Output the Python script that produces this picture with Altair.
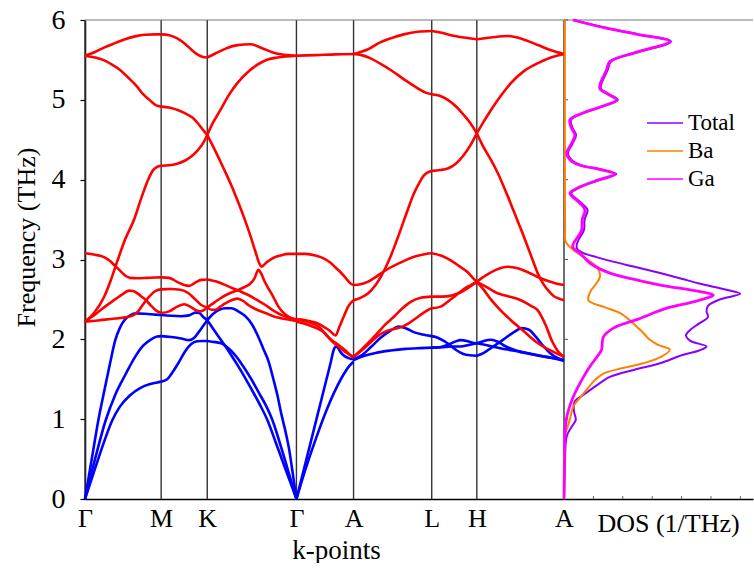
import altair as alt
import pandas as pd

# ---------------- k-path ----------------
K_LABELS = ["Γ", "M", "K", "Γ", "A", "L", "H", "A"]
K_POS = [0, 76, 122, 211, 268, 346, 391, 478]
FREQ_TICKS = [0, 1, 2, 3, 4, 5, 6]
DOS_TICKS = [1, 2, 3, 4, 5, 6]

# ---------------- acoustic branches (k, THz) ----------------
ac_GM_1 = [(0, 0), (7, 0.52), (13.5, 1.0), (20, 1.4), (25, 1.7), (30, 1.98), (35, 2.15), (40, 2.25), (45, 2.3), (51, 2.325), (60, 2.32), (70, 2.31), (76, 2.305)]
ac_GM_2 = [(0, 0), (10, 0.5), (20.5, 0.98), (30, 1.3), (40, 1.55), (50, 1.78), (58, 1.92), (66, 2.0), (72, 2.035), (76, 2.04)]
ac_GM_3 = [(0, 0), (10, 0.38), (20, 0.75), (27, 0.98), (35, 1.16), (45, 1.3), (55, 1.39), (65, 1.44), (72, 1.46), (76, 1.47)]
ac_MK_1 = [(76, 2.305), (86, 2.295), (96, 2.29), (104, 2.3), (110, 2.335), (114, 2.33), (118, 2.28), (122, 2.24)]
ac_MK_2 = [(76, 2.04), (86, 2.03), (96, 2.01), (104, 1.99), (109, 2.02), (114, 2.1), (118, 2.17), (122, 2.24)]
ac_MK_3 = [(76, 1.47), (82, 1.5), (88, 1.6), (94, 1.72), (100, 1.85), (106, 1.94), (112, 1.975), (117, 1.98), (122, 1.98)]
ac_KG_1 = [(122, 2.24), (128, 2.32), (134, 2.37), (140, 2.39), (146, 2.39), (153, 2.35), (160, 2.29), (167, 2.18), (173, 2.03), (178, 1.88), (183, 1.73), (188, 1.5), (192, 1.3), (196, 1.06), (200, 0.85), (204, 0.6), (208, 0.26), (211, 0)]
ac_KG_2 = [(122, 2.24), (128, 2.13), (133, 2.04), (138, 1.95), (145, 1.82), (155, 1.62), (165, 1.4), (175, 1.17), (182, 0.99), (190, 0.72), (197, 0.48), (204, 0.24), (211, 0)]
ac_KG_3 = [(122, 1.98), (130, 1.965), (136, 1.95), (142, 1.9), (150, 1.8), (158, 1.66), (166, 1.5), (174, 1.32), (181, 1.16), (187, 0.99), (194, 0.72), (200, 0.47), (206, 0.21), (211, 0)]
ac_GA_1 = [(211, 0), (216, 0.25), (221, 0.5), (226, 0.75), (231, 1.0), (236, 1.25), (241, 1.5), (245, 1.7), (248, 1.86), (250, 1.91), (252, 1.9), (255, 1.84), (259, 1.79), (263, 1.765), (268, 1.75)]
ac_GA_2 = [(211, 0), (220, 0.37), (230, 0.74), (240, 1.08), (250, 1.37), (258, 1.56), (264, 1.67), (268, 1.72)]
ac_AL_1 = [(268, 1.74), (278, 1.79), (290, 1.83), (305, 1.86), (320, 1.88), (335, 1.89), (346, 1.896)]
ac_AL_2 = [(268, 1.75), (276, 1.8), (285, 1.9), (295, 2.02), (305, 2.11), (313, 2.16), (320, 2.14), (328, 2.09), (337, 2.06), (346, 2.04)]
ac_LH_1 = [(346, 2.04), (352, 2.02), (358, 1.98), (364, 1.93), (370, 1.87), (377, 1.82), (384, 1.8), (391, 1.795)]
ac_LH_2 = [(346, 1.896), (354, 1.9), (362, 1.93), (369, 1.97), (375, 1.99), (381, 1.98), (386, 1.96), (391, 1.95)]
ac_LH_3 = [(346, 1.896), (356, 1.9), (366, 1.91), (375, 1.91), (383, 1.93), (391, 1.95)]
ac_HA_1 = [(391, 1.95), (398, 1.98), (405, 1.995), (412, 1.97), (420, 1.91), (430, 1.86), (445, 1.82), (460, 1.78), (470, 1.76), (478, 1.74)]
ac_HA_2 = [(391, 1.795), (398, 1.83), (405, 1.89), (412, 1.95), (420, 2.02), (428, 2.09), (436, 2.14), (443, 2.12), (450, 2.03), (457, 1.92), (464, 1.83), (471, 1.77), (478, 1.74)]
ac_HA_3 = [(391, 1.95), (400, 1.93), (410, 1.9), (420, 1.875), (435, 1.84), (450, 1.8), (465, 1.77), (478, 1.73)]

# ---------------- optical branches (k, THz) ----------------
op_GM_1 = [(0, 5.553), (10, 5.6), (20, 5.66), (30, 5.71), (40, 5.76), (50, 5.795), (60, 5.815), (70, 5.82), (76, 5.82)]
op_GM_2 = [(0, 5.553), (10, 5.53), (18, 5.5), (27, 5.44), (35, 5.375), (43, 5.28), (52, 5.165), (58, 5.07), (65, 4.99), (71, 4.93), (76, 4.915)]
op_GM_3 = [(0, 2.22), (9, 2.33), (19, 2.53), (26, 2.75), (32, 2.97), (40, 3.25), (49, 3.5), (57, 3.8), (63, 4.0), (68, 4.12), (72, 4.16), (76, 4.175)]
op_GM_4 = [(0, 3.078), (10, 3.06), (19, 3.03), (25, 2.98), (30, 2.92), (35, 2.86), (40, 2.8), (45, 2.77), (52, 2.765), (62, 2.77), (70, 2.775), (76, 2.776)]
op_GM_5 = [(0, 2.22), (10, 2.31), (20, 2.41), (30, 2.5), (38, 2.57), (44, 2.61), (48, 2.605), (53, 2.57), (57, 2.53), (61, 2.49), (66, 2.42), (71, 2.36), (76, 2.33)]
op_GM_6 = [(0, 2.22), (15, 2.24), (30, 2.26), (42, 2.28), (48, 2.3), (53, 2.35), (57, 2.42), (61, 2.49), (66, 2.56), (71, 2.61), (76, 2.626)]
op_MK_1 = [(76, 5.82), (84, 5.81), (92, 5.77), (100, 5.7), (106, 5.63), (112, 5.57), (117, 5.54), (122, 5.53)]
op_MK_2 = [(76, 4.915), (85, 4.9), (95, 4.86), (103, 4.81), (108, 4.77), (113, 4.7), (118, 4.62), (122, 4.56)]
op_MK_3 = [(76, 4.175), (84, 4.18), (92, 4.2), (100, 4.24), (106, 4.29), (112, 4.36), (118, 4.46), (122, 4.56)]
op_MK_4 = [(76, 2.776), (84, 2.77), (92, 2.72), (99, 2.68), (104, 2.67), (110, 2.71), (116, 2.745), (122, 2.75)]
op_MK_5 = [(76, 2.626), (85, 2.63), (95, 2.62), (103, 2.58), (110, 2.5), (116, 2.43), (122, 2.40)]
op_MK_6 = [(76, 2.33), (84, 2.35), (92, 2.41), (99, 2.44), (105, 2.41), (110, 2.37), (115, 2.35), (119, 2.37), (122, 2.40)]
op_KG_1 = [(122, 5.53), (130, 5.58), (141, 5.645), (152, 5.685), (165, 5.696), (178, 5.64), (191, 5.58), (201, 5.56), (211, 5.553)]
op_KG_2 = [(122, 4.56), (128, 4.72), (135, 4.87), (143, 5.05), (152, 5.21), (161, 5.33), (172, 5.44), (181, 5.5), (192, 5.53), (211, 5.553)]
op_KG_3 = [(122, 4.56), (130, 4.36), (138, 4.15), (146, 3.93), (152, 3.745), (158, 3.55), (165, 3.3), (170, 3.1), (174, 2.95), (176, 2.91), (180, 2.95), (187, 3.015), (195, 3.05), (203, 3.07), (211, 3.07)]
op_KG_4 = [(122, 2.75), (132, 2.72), (142, 2.67), (153, 2.61), (163, 2.555), (172, 2.49), (180, 2.43), (188, 2.36), (197, 2.3), (204, 2.27), (211, 2.25)]
op_KG_5 = [(122, 2.40), (129, 2.46), (137, 2.53), (145, 2.58), (153, 2.62), (160, 2.66), (165, 2.7), (169, 2.76), (173, 2.87), (176, 2.82), (179, 2.73), (182, 2.66), (188, 2.53), (193, 2.41), (200, 2.31), (205, 2.27), (211, 2.24)]
op_KG_6 = [(122, 2.40), (126, 2.37), (130, 2.37), (135, 2.41), (140, 2.45), (146, 2.49), (152, 2.51), (158, 2.48), (163, 2.43), (170, 2.38), (180, 2.33), (190, 2.28), (197, 2.26), (211, 2.23)]
op_GA_1 = [(211, 5.553), (230, 5.56), (250, 5.57), (268, 5.574)]
op_GA_2 = [(211, 3.07), (220, 3.07), (230, 3.05), (238, 3.015), (245, 2.96), (250, 2.9), (255, 2.84), (260, 2.77), (265, 2.7), (268, 2.68)]
op_GA_3 = [(211, 2.25), (220, 2.24), (230, 2.21), (238, 2.16), (244, 2.11), (250, 2.05), (254, 2.16), (258, 2.28), (263, 2.42), (268, 2.49)]
op_GA_4 = [(211, 2.25), (222, 2.22), (233, 2.16), (240, 2.07), (247, 1.97), (254, 1.9), (260, 1.84), (265, 1.8), (268, 1.775)]
op_GA_5 = [(211, 2.22), (225, 2.17), (237, 2.1), (245, 2.0), (253, 1.93), (260, 1.86), (265, 1.8), (268, 1.775)]
op_AL_1 = [(268, 5.574), (275, 5.6), (282, 5.63), (293, 5.71), (305, 5.77), (318, 5.82), (332, 5.853), (346, 5.862)]
op_AL_2 = [(268, 5.574), (276, 5.56), (285, 5.52), (295, 5.45), (305, 5.374), (318, 5.26), (332, 5.145), (340, 5.09), (346, 5.07)]
op_AL_3 = [(268, 2.49), (275, 2.52), (282, 2.57), (290, 2.68), (295, 2.78), (300, 2.9), (305, 3.04), (312, 3.27), (318, 3.48), (322, 3.62), (328, 3.82), (334, 3.97), (338, 4.05), (342, 4.09), (346, 4.11)]
op_AL_4 = [(268, 2.68), (275, 2.69), (282, 2.72), (290, 2.78), (298, 2.85), (308, 2.92), (318, 2.98), (330, 3.04), (340, 3.07), (346, 3.078)]
op_AL_5 = [(268, 1.78), (275, 1.86), (283, 1.96), (292, 2.08), (300, 2.19), (308, 2.28), (316, 2.38), (325, 2.47), (335, 2.52), (346, 2.535)]
op_AL_6 = [(268, 1.78), (276, 1.86), (284, 1.95), (292, 2.04), (300, 2.1), (308, 2.13), (315, 2.15), (323, 2.2), (332, 2.28), (340, 2.35), (346, 2.39)]
op_LH_1 = [(346, 5.862), (356, 5.84), (365, 5.81), (378, 5.78), (391, 5.758)]
op_LH_2 = [(346, 5.07), (354, 5.05), (362, 5.0), (370, 4.92), (378, 4.81), (385, 4.7), (391, 4.58)]
op_LH_3 = [(346, 4.11), (354, 4.12), (362, 4.14), (370, 4.2), (378, 4.31), (385, 4.44), (391, 4.58)]
op_LH_4 = [(346, 3.078), (355, 3.05), (365, 2.99), (373, 2.92), (382, 2.84), (387, 2.77), (391, 2.72)]
op_LH_5 = [(346, 2.535), (356, 2.535), (366, 2.55), (375, 2.59), (383, 2.65), (391, 2.72)]
op_LH_6 = [(346, 2.39), (355, 2.41), (362, 2.47), (370, 2.55), (378, 2.63), (385, 2.68), (391, 2.72)]
op_HA_1 = [(391, 5.758), (405, 5.78), (422, 5.8), (437, 5.76), (452, 5.686), (465, 5.62), (478, 5.574)]
op_HA_2 = [(391, 4.58), (398, 4.73), (405, 4.87), (415, 5.05), (425, 5.21), (438, 5.36), (452, 5.46), (465, 5.53), (478, 5.574)]
op_HA_3 = [(391, 4.58), (398, 4.4), (405, 4.25), (412, 4.08), (420, 3.85), (428, 3.6), (436, 3.35), (443, 3.12), (448, 2.95), (452, 2.82), (457, 2.7), (463, 2.6), (468, 2.54), (473, 2.51), (478, 2.49)]
op_HA_4 = [(391, 2.72), (400, 2.8), (410, 2.87), (422, 2.91), (432, 2.89), (442, 2.84), (452, 2.78), (462, 2.73), (470, 2.7), (478, 2.68)]
op_HA_5 = [(391, 2.72), (400, 2.66), (411, 2.58), (422, 2.54), (435, 2.49), (445, 2.42), (452, 2.36), (460, 2.17), (466, 1.98), (472, 1.85), (478, 1.78)]
op_HA_6 = [(391, 2.72), (398, 2.62), (405, 2.5), (415, 2.36), (425, 2.24), (438, 2.1), (450, 1.97), (460, 1.89), (468, 1.84), (478, 1.78)]

ACOUSTIC = [ac_GM_1, ac_GM_2, ac_GM_3, ac_MK_1, ac_MK_2, ac_MK_3, ac_KG_1, ac_KG_2, ac_KG_3,
            ac_GA_1, ac_GA_2, ac_AL_1, ac_AL_2, ac_LH_1, ac_LH_2, ac_LH_3, ac_HA_1, ac_HA_2, ac_HA_3]
OPTICAL = [op_GM_1, op_GM_2, op_GM_3, op_GM_4, op_GM_5, op_GM_6,
           op_MK_1, op_MK_2, op_MK_3, op_MK_4, op_MK_5, op_MK_6,
           op_KG_1, op_KG_2, op_KG_3, op_KG_4, op_KG_5, op_KG_6,
           op_GA_1, op_GA_2, op_GA_3, op_GA_4, op_GA_5,
           op_AL_1, op_AL_2, op_AL_3, op_AL_4, op_AL_5, op_AL_6,
           op_LH_1, op_LH_2, op_LH_3, op_LH_4, op_LH_5, op_LH_6,
           op_HA_1, op_HA_2, op_HA_3, op_HA_4, op_HA_5, op_HA_6]

# ---------------- DOS (THz, 1/THz) ----------------
DOS_TOTAL = [(0, 0), (0.4, 0.03), (0.78, 0.09), (0.9, 0.25), (0.99, 0.4), (1.1, 0.34), (1.22, 0.36), (1.32, 0.72),
             (1.42, 1.1), (1.53, 1.56), (1.62, 2.4), (1.7, 3.27), (1.8, 4.0), (1.86, 4.6), (1.91, 4.85), (1.98, 4.3),
             (2.05, 4.15), (2.12, 4.3), (2.2, 4.6), (2.28, 4.9), (2.35, 4.85), (2.42, 4.9), (2.5, 5.3), (2.57, 5.99),
             (2.62, 5.53), (2.7, 4.6), (2.76, 4.0), (2.83, 3.27), (2.9, 2.5), (2.97, 1.7), (3.03, 1.1), (3.08, 0.66),
             (3.13, 0.45), (3.18, 0.43), (3.25, 0.5), (3.37, 0.68), (3.5, 0.7), (3.62, 0.8), (3.72, 0.55),
             (3.83, 0.25), (3.91, 0.58), (4.0, 1.25), (4.07, 1.78), (4.13, 1.25), (4.18, 0.58), (4.25, 0.25),
             (4.33, 0.13), (4.45, 0.29), (4.56, 0.41), (4.65, 0.29), (4.75, 0.24), (4.83, 0.64), (4.91, 1.26),
             (5.0, 1.83), (5.07, 1.54), (5.14, 1.26), (5.22, 1.29), (5.29, 1.38), (5.38, 1.49), (5.48, 1.6),
             (5.6, 2.54), (5.73, 3.64), (5.82, 2.54), (5.9, 1.44), (6.0, 0.34)]
DOS_BA = [(0, 0), (0.5, 0.02), (0.8, 0.03), (0.91, 0.13), (1.0, 0.2), (1.16, 0.32), (1.27, 0.55), (1.37, 0.77),
          (1.47, 1.0), (1.57, 1.34), (1.64, 2.0), (1.7, 2.7), (1.78, 3.3), (1.87, 3.6), (1.93, 3.2), (2.0, 2.9),
          (2.08, 2.7), (2.16, 2.47), (2.25, 2.2), (2.33, 1.9), (2.4, 1.4), (2.49, 0.83), (2.6, 0.9), (2.7, 1.1),
          (2.78, 1.22), (2.85, 1.2), (2.91, 1.11), (3.0, 0.8), (3.12, 0.32), (3.22, 0.06), (3.4, 0.04),
          (4.5, 0.03), (6.0, 0.03)]
DOS_GA = [(0, 0), (0.3, 0.01), (0.5, 0.02), (0.82, 0.03), (1.0, 0.08), (1.11, 0.15), (1.25, 0.28), (1.37, 0.43),
          (1.52, 0.65), (1.66, 0.88), (1.77, 1.1), (1.87, 1.28), (1.95, 1.3), (2.03, 1.34), (2.14, 1.68),
          (2.25, 2.5), (2.39, 3.49), (2.47, 4.4), (2.555, 5.08), (2.6, 4.6), (2.68, 3.27), (2.75, 2.4),
          (2.83, 1.56), (2.95, 0.9), (3.08, 0.54), (3.15, 0.3), (3.2, 0.32), (3.3, 0.5), (3.37, 0.6), (3.5, 0.62),
          (3.62, 0.71), (3.72, 0.5), (3.83, 0.2), (3.91, 0.54), (4.0, 1.2), (4.07, 1.73), (4.13, 1.2), (4.18, 0.54),
          (4.25, 0.2), (4.33, 0.09), (4.45, 0.25), (4.56, 0.37), (4.65, 0.25), (4.75, 0.2), (4.83, 0.6),
          (4.91, 1.22), (5.0, 1.79), (5.07, 1.5), (5.14, 1.22), (5.22, 1.25), (5.29, 1.34), (5.38, 1.45),
          (5.48, 1.56), (5.6, 2.5), (5.73, 3.6), (5.82, 2.5), (5.9, 1.4), (6.0, 0.3)]
SERIES = ["Total", "Ba", "Ga"]
SERIES_COLORS = ["#8A00FF", "#FF8000", "#FF00FF"]

FONT = "Liberation Serif"

# ---------------- data frames ----------------
rows = []
for i, br in enumerate(ACOUSTIC):
    for k, f in br:
        rows.append({"line": f"a{i}", "kind": "acoustic", "k": k, "f": f})
for i, br in enumerate(OPTICAL):
    for k, f in br:
        rows.append({"line": f"o{i}", "kind": "optical", "k": k, "f": f})
band_df = pd.DataFrame(rows)

kdf = pd.DataFrame({"k": K_POS, "label": K_LABELS})
topdf = pd.DataFrame({"v": [FREQ_TICKS[-1]]})

label_expr = " : ".join(f"datum.value == {p} ? '{l}'" for p, l in zip(K_POS, K_LABELS)) + " : ''"

xk = alt.Scale(domain=[0, 478], nice=False, zero=False)
yf = alt.Scale(domain=[0, 6], nice=False, zero=True)

x_axis = alt.Axis(values=K_POS, labelExpr=label_expr, ticks=False, grid=False,
                  domainColor="black", domainWidth=1.5, labelFont=FONT, labelFontSize=26,
                  labelColor="black", labelPadding=6, labelFlush=False,
                  title="k-points", titleFont=FONT, titleFontSize=27, titleFontWeight="normal",
                  titleColor="black", titleX=251, titleY=38, titleBaseline="top")
y_axis = alt.Axis(values=FREQ_TICKS, format="d", grid=False, tickSize=5, tickColor="black", tickWidth=1.2,
                  domainColor="black", domainWidth=1.5, labelFont=FONT, labelFontSize=28,
                  labelColor="black", labelPadding=15, labelFlush=False,
                  title="Frequency (THz)", titleFont=FONT, titleFontSize=26, titleFontWeight="normal",
                  titleColor="black", titleX=-46, titleY=217, titleBaseline="bottom", titleAngle=-90)

vlines = alt.Chart(kdf).mark_rule(color="#333333", strokeWidth=1.4).encode(
    x=alt.X("k:Q", scale=xk, axis=x_axis))
topline = alt.Chart(topdf).mark_rule(color="#777777", strokeWidth=1.2).encode(
    y=alt.Y("v:Q", scale=yf, axis=y_axis))

bands_ac = alt.Chart(band_df[band_df.kind == "acoustic"]).mark_line(
    color="#0000FF", strokeWidth=2.6, interpolate="monotone").encode(
    x=alt.X("k:Q", scale=xk), y=alt.Y("f:Q", scale=yf), detail="line:N")
bands_op = alt.Chart(band_df[band_df.kind == "optical"]).mark_line(
    color="#FF0000", strokeWidth=2.6, interpolate="monotone").encode(
    x=alt.X("k:Q", scale=xk), y=alt.Y("f:Q", scale=yf), detail="line:N")

left = alt.layer(vlines, topline, bands_ac, bands_op).properties(width=479, height=479)

# ---------------- DOS panel ----------------
def dos_frame(name, pts):
    return pd.DataFrame({"series": name, "f": [p[0] for p in pts], "d": [p[1] for p in pts]})

dos_df = pd.concat([dos_frame("Total", DOS_TOTAL), dos_frame("Ba", DOS_BA), dos_frame("Ga", DOS_GA)])

xd = alt.Scale(domain=[0, 6.43], nice=False, zero=True)
color_scale = alt.Scale(domain=SERIES, range=SERIES_COLORS)
legend = alt.Legend(title=None, orient="none", legendX=561, legendY=91, symbolType="stroke",
                    symbolSize=1300, symbolStrokeWidth=1.6, labelFont=FONT, labelFontSize=23,
                    labelColor="black", rowPadding=4, clipHeight=24, labelOffset=4)

dos_x_axis = alt.Axis(ticks=False, labels=False, grid=False, domainColor="black", domainWidth=1.5,
                      title="DOS (1/THz)", titleFont=FONT, titleFontSize=26, titleFontWeight="normal",
                      titleColor="black", titleX=104, titleY=11, titleBaseline="top")

def dos_line(name, width):
    return alt.Chart(dos_df[dos_df.series == name]).mark_line(
        strokeWidth=width, interpolate="catmull-rom").encode(
        x=alt.X("d:Q", scale=xd, axis=dos_x_axis),
        y=alt.Y("f:Q", scale=yf, axis=None),
        order=alt.Order("f:Q"),
        color=alt.Color("series:N", scale=color_scale, legend=legend))

dos_top = alt.Chart(topdf).mark_rule(color="#777777", strokeWidth=1.2).encode(
    y=alt.Y("v:Q", scale=yf, axis=None))
dos_bticks = alt.Chart(pd.DataFrame({"d": DOS_TICKS})).mark_rule(color="#666666", strokeWidth=1).encode(
    x=alt.X("d:Q", scale=xd, axis=dos_x_axis), y=alt.value(479), y2=alt.value(476))
dos_lticks = alt.Chart(pd.DataFrame({"f": FREQ_TICKS[1:]})).mark_rule(color="#555555", strokeWidth=1).encode(
    y=alt.Y("f:Q", scale=yf, axis=None), x=alt.value(0), x2=alt.value(4))

right = alt.layer(dos_top, dos_bticks, dos_lticks,
                  dos_line("Total", 2.0), dos_line("Ba", 2.0), dos_line("Ga", 2.8)
                  ).properties(width=189, height=479)

chart = alt.hconcat(left, right, spacing=0, bounds="flush").properties(
    padding={"left": 13, "top": 6, "right": 0, "bottom": 0},
    background="white"
).configure_view(stroke=None).configure_axis(
    labelFont=FONT, titleFont=FONT
).configure_legend(labelFont=FONT)

chart.save("out.html", embed_options={"renderer": "svg", "actions": False})
